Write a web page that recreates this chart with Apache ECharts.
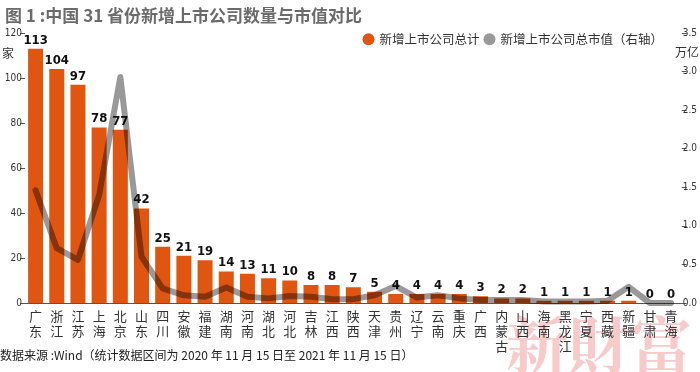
<!DOCTYPE html>
<html><head><meta charset="utf-8">
<script src="https://cdn.jsdelivr.net/npm/echarts@6/dist/echarts.min.js"></script>
<style>html,body{margin:0;padding:0;background:#fff}#c{width:700px;height:372px}</style>
</head><body><div id="c"></div>
<script>
const categories = ['广东','浙江','江苏','上海','北京','山东','四川','安徽','福建','湖南','河南','湖北','河北','吉林','江西','陕西','天津','贵州','辽宁','云南','重庆','广西','内蒙古','山西','海南','黑龙江','宁夏','西藏','新疆','甘肃','青海'];
const companyCount = [113,104,97,78,77,42,25,21,19,14,13,11,10,8,8,7,5,4,4,4,4,3,2,2,1,1,1,1,1,0,0];
const marketValue = [1.46,0.71,0.56,1.40,2.93,0.60,0.19,0.10,0.08,0.20,0.08,0.06,0.09,0.08,0.05,0.05,0.10,0.22,0.07,0.10,0.06,0.04,0.04,0.04,0.02,0.02,0.02,0.03,0.21,0.0,0.0];
const leftTicks = {min:0,max:120,interval:20};
const rightTicks = {min:0,max:3.5,interval:0.5};

const CN = '"Noto Sans CJK SC","Noto Sans",sans-serif';
const NUM = '"Liberation Sans Narrow","DejaVu Sans Condensed","Roboto Condensed","Liberation Sans",sans-serif';
const chart = echarts.init(document.getElementById('c'), null, {renderer:'canvas'});
chart.setOption({
  animation:false,
  backgroundColor:'#fff',
  title:{text:'图 1 :中国 31 省份新增上市公司数量与市值对比',left:0,top:2,textStyle:{fontFamily:CN,fontSize:17,fontWeight:'bold',color:'#6b6b6b'}},
  legend:{right:32,top:28,itemWidth:12,itemHeight:12,itemGap:4,icon:'circle',
    textStyle:{fontFamily:CN,fontSize:12.5,color:'#333'},
    data:['新增上市公司总计','新增上市公司总市值（右轴）']},
  grid:{left:25,right:18,top:33,bottom:69,containLabel:false},
  xAxis:{type:'category',data:categories,
    axisLine:{lineStyle:{color:'#555',width:1}},axisTick:{show:false},
    axisLabel:{interval:0,margin:6,fontFamily:CN,fontSize:13,lineHeight:15,color:'#333',
      formatter:v=>v.split('').join('\n')}},
  yAxis:[
    {type:'value',min:leftTicks.min,max:leftTicks.max,interval:leftTicks.interval,
      splitLine:{show:false},axisLine:{show:false},
      axisTick:{show:true,length:5,lineStyle:{color:'#555'}},
      axisLabel:{margin:3,fontFamily:NUM,fontSize:10,color:'#333',showMaxLabel:true,showMinLabel:true}},
    {type:'value',min:rightTicks.min,max:rightTicks.max,interval:rightTicks.interval,
      splitLine:{show:false},axisLine:{show:false},
      axisTick:{show:true,length:5,lineStyle:{color:'#555'}},
      axisLabel:{margin:1,fontFamily:NUM,fontSize:10,color:'#333',showMaxLabel:true,showMinLabel:true,
        formatter:v=>v.toFixed(1)}}
  ],
  graphic:[
    {type:'text',left:2,top:47,style:{text:'家',font:'12px '+CN,fill:'#333'}},
    {type:'text',left:675,top:46,style:{text:'万亿',font:'12px '+CN,fill:'#333'}},
    {type:'text',left:0,top:349,style:{text:'数据来源 :Wind（统计数据区间为 2020 年 11 月 15 日至 2021 年 11 月 15 日）',font:'12px '+CN,fill:'#222'}},
    {type:'text',left:506,top:314,z:-1,style:{text:'新財富',font:'bold 62px "Noto Serif CJK SC","Noto Sans CJK TC",serif',fill:'rgba(232,80,80,0.3)'}}
  ],
  series:[
    {name:'新增上市公司总计',type:'bar',data:companyCount,yAxisIndex:0,barWidth:15,
      itemStyle:{color:'#e0550f'},
      label:{show:true,position:'top',distance:2,fontFamily:NUM,fontSize:13,fontWeight:'bold',color:'#111'}},
    {name:'新增上市公司总市值（右轴）',type:'line',data:marketValue,yAxisIndex:1,
      showSymbol:false,symbol:'none',z:5,
      itemStyle:{color:'#999'},
      lineStyle:{color:'rgba(0,0,0,0.4)',width:6,cap:'round',join:'round'}}
  ]
});
</script></body></html>
